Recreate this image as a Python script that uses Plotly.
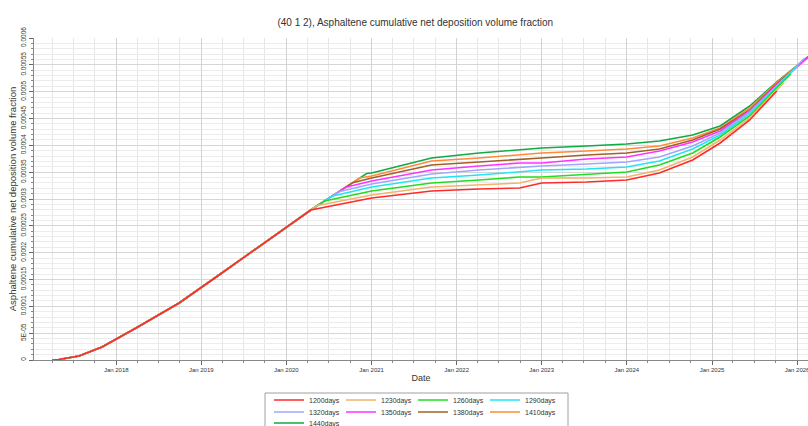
import plotly.graph_objects as go
import pandas as pd

# ---------------- data ----------------
start_date = "2017-01-01"

# common rising part (all cases identical)
early_dates = ["2017-04-01", "2017-04-30", "2017-07-25", "2017-11-01",
               "2018-03-27", "2018-09-28", "2019-03-18", "2019-11-01"]
early_vals = [0.0, 0.000001, 0.0000075, 0.0000242,
              0.0000596, 0.0001062, 0.0001584, 0.0002292]

case_days = [1200, 1230, 1260, 1290, 1320, 1350, 1380, 1410, 1440]
case_names = ["1200days", "1230days", "1260days", "1290days", "1320days",
              "1350days", "1380days", "1410days", "1440days"]
case_colors = ["#ff2a2a", "#f2b36e", "#22dd22", "#22e4f4", "#a4a4ff",
               "#ff33ff", "#a0602a", "#ff8a3a", "#12aa44"]

# value on the common curve at each case's departure day
departure_vals = [0.0002795, 0.0002880, 0.0002965, 0.0003050, 0.0003135,
                  0.0003220, 0.0003305, 0.0003390, 0.0003475]
run_days = 2000  # run length after departure

tail_dates = ["2021-01-01", "2021-09-15", "2022-04-07", "2022-09-28",
              "2023-01-01", "2023-07-13", "2024-01-01", "2024-05-20",
              "2024-10-10", "2025-02-05", "2025-06-12", "2025-10-05"]

v1200 = [0.0003019, 0.0003149, 0.0003186, 0.0003205, 0.0003298, 0.0003317, 0.0003354,
         0.0003485, 0.0003727, 0.0004044, 0.0004472, 0.0004994, 0.0005013]
v1230 = [0.0003075, 0.0003224, 0.0003261, 0.0003298, 0.0003391, 0.0003391, 0.0003410,
         0.0003540, 0.0003783, 0.0004099, 0.0004509, 0.0005031, 0.0005162]
v1260 = [0.0003149, 0.0003298, 0.0003354, 0.0003410, 0.0003410, 0.0003466, 0.0003503,
         0.0003634, 0.0003857, 0.0004155, 0.0004547, 0.0005068, 0.0005329]
v1290 = [0.0003224, 0.0003391, 0.0003447, 0.0003503, 0.0003540, 0.0003559, 0.0003596,
         0.0003708, 0.0003932, 0.0004193, 0.0004584, 0.0005087, 0.0005478]
v1320 = [0.0003280, 0.0003466, 0.0003540, 0.0003596, 0.0003615, 0.0003652, 0.0003689,
         0.0003783, 0.0003988, 0.0004230, 0.0004621, 0.0005106, 0.0005627]
v1350 = [0.0003336, 0.0003540, 0.0003615, 0.0003671, 0.0003671, 0.0003745, 0.0003783,
         0.0003895, 0.0004062, 0.0004267, 0.0004640, 0.0005124, 0.0005702]
v1380 = [0.0003391, 0.0003634, 0.0003689, 0.0003745, 0.0003764, 0.0003820, 0.0003857,
         0.0003932, 0.0004099, 0.0004305, 0.0004659, 0.0005143, 0.0005814]
v1410 = [0.0003429, 0.0003708, 0.0003764, 0.0003820, 0.0003857, 0.0003895, 0.0003932,
         0.0003988, 0.0004137, 0.0004323, 0.0004696, 0.0005162, 0.0005926]
v1440 = [0.0003485, 0.0003764, 0.0003857, 0.0003913, 0.0003950, 0.0003988, 0.0004025,
         0.0004081, 0.0004193, 0.0004360, 0.0004733, 0.0005180, 0.0006019]
tails = [v1200, v1230, v1260, v1290, v1320, v1350, v1380, v1410, v1440]

y_tickvals = [0, 0.00005, 0.0001, 0.00015, 0.0002, 0.00025, 0.0003,
              0.00035, 0.0004, 0.00045, 0.0005, 0.00055, 0.0006]
y_ticktext = ["0", "5E-05", "0.0001", "0.00015", "0.0002", "0.00025", "0.0003",
              "0.00035", "0.0004", "0.00045", "0.0005", "0.00055", "0.0006"]

chart_title = "(40 1 2), Asphaltene cumulative net deposition volume fraction"
y_title = "Asphaltene cumulative net deposition volume fraction"
x_title = "Date"

# ---------------- figure ----------------
FONT = "Liberation Sans, Arial, sans-serif"
W, H = 808, 426
ML, MR, MT, MB = 34, 0, 38, 66
PW, PH = W - ML - MR, H - MT - MB


def px_x(p):  # figure pixel -> paper x
    return (p - ML) / PW


def px_y(p):  # figure pixel -> paper y
    return (H - MB - p) / PH


t0 = pd.Timestamp(start_date)
fig = go.Figure()

legend_ids = ["legend", "legend", "legend", "legend",
              "legend2", "legend2", "legend2", "legend2", "legend3"]

for i in reversed(range(len(case_days))):
    dep_dates = [t0 + pd.Timedelta(days=d) for d in case_days[:i + 1]]
    end_date = t0 + pd.Timedelta(days=case_days[i] + run_days)
    xs = [pd.Timestamp(d) for d in early_dates] + dep_dates + \
         [pd.Timestamp(d) for d in tail_dates] + [end_date]
    ys = early_vals + departure_vals[:i + 1] + tails[i]
    fig.add_trace(go.Scatter(
        x=xs, y=ys, mode="lines", name=case_names[i], legendrank=i + 1,
        legend=legend_ids[i],
        line=dict(color=case_colors[i], width=1.6),
    ))

leg_common = dict(orientation="h", xanchor="left", yanchor="middle",
                  x=px_x(269), bgcolor="rgba(0,0,0,0)", borderwidth=0,
                  font=dict(size=7, family=FONT, color="#333333"),
                  entrywidth=27, entrywidthmode="pixels", traceorder="normal")

fig.update_layout(
    width=W, height=H,
    margin=dict(l=ML, r=MR, t=MT, b=MB, autoexpand=False),
    paper_bgcolor="white", plot_bgcolor="white",
    font=dict(family=FONT, color="#333333"),
    title=dict(text=chart_title, x=0.514, xref="container", xanchor="center",
               y=1 - 22 / H, yref="container", yanchor="middle",
               font=dict(size=10, color="#333333", family=FONT)),
    showlegend=True,
    legend=dict(leg_common, y=px_y(400)),
    legend2=dict(leg_common, y=px_y(412)),
    legend3=dict(leg_common, y=px_y(423)),
    shapes=[dict(type="rect", xref="paper", yref="paper",
                 x0=px_x(265), x1=px_x(568), y0=px_y(393), y1=px_y(440),
                 line=dict(color="#a0a0a0", width=1), fillcolor="rgba(0,0,0,0)",
                 layer="below")],
)

fig.update_xaxes(
    type="date", range=["2017-01-13", "2026-02-17"],
    tickformat="%b %Y", dtick="M12", tick0="2018-01-01",
    ticks="outside", ticklen=4, tickcolor="#666666",
    tickfont=dict(size=6, family=FONT, color="#333333"),
    ticklabeloverflow="allow",
    showgrid=True, gridcolor="#d2d2d2", gridwidth=1,
    minor=dict(dtick="M3", showgrid=True, gridcolor="#e6e6e6",
               ticks="outside", ticklen=2, tickcolor="#888888"),
    showline=True, linecolor="#888888", linewidth=1,
    zeroline=False,
    title=dict(text=x_title, font=dict(size=9, family=FONT, color="#333333"), standoff=2),
)

fig.update_yaxes(
    range=[0, 0.0006], tickmode="array", tickvals=y_tickvals, ticktext=y_ticktext,
    tickangle=-90, ticks="outside", ticklen=4, tickcolor="#666666",
    tickfont=dict(size=6.5, family=FONT, color="#333333"),
    showgrid=True, gridcolor="#d6d6d6", gridwidth=1,
    minor=dict(tickmode="linear", tick0=0, dtick=0.00001, showgrid=True,
               gridcolor="#ececec", ticks="outside", ticklen=2, tickcolor="#888888"),
    showline=True, linecolor="#888888", linewidth=1,
    zeroline=False,
    title=dict(text=y_title, font=dict(size=9.5, family=FONT, color="#333333"), standoff=2),
)

fig.write_html("out.html")
